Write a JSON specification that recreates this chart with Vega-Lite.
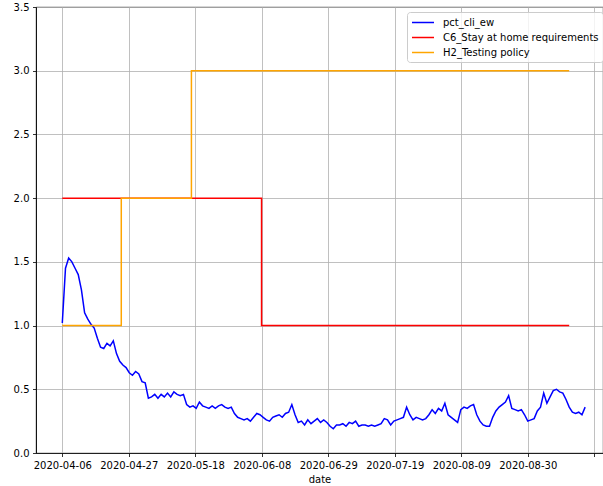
{
  "$schema": "https://vega.github.io/schema/vega-lite/v6.json",
  "width": 567,
  "height": 446,
  "autosize": {"type": "none"},
  "padding": {"left": 36, "top": 7, "right": 0, "bottom": 33},
  "background": "white",
  "config": {
    "font": "DejaVu Sans",
    "view": {"stroke": "#000000", "strokeWidth": 0.8},
    "axis": {
      "domainColor": "#000000", "domainWidth": 0.8,
      "tickColor": "#000000", "tickWidth": 0.8, "tickSize": 3.5,
      "labelFont": "DejaVu Sans", "labelFontSize": 10, "labelColor": "#000000", "labelPadding": 3.5,
      "gridColor": "#b0b0b0", "gridWidth": 0.8, "gridOpacity": 1,
      "titleFont": "DejaVu Sans", "titleFontSize": 10, "titleFontWeight": "normal", "titleColor": "#000000"
    },
    "legend": {
      "labelFont": "DejaVu Sans", "labelFontSize": 10, "labelColor": "#000000"
    }
  },
  "datasets": {
    "cli": [
      {"date":"2020-04-06","value":1.02},{"date":"2020-04-07","value":1.45},{"date":"2020-04-08","value":1.53},{"date":"2020-04-09","value":1.50},{"date":"2020-04-10","value":1.45},{"date":"2020-04-11","value":1.40},{"date":"2020-04-12","value":1.28},{"date":"2020-04-13","value":1.10},{"date":"2020-04-14","value":1.05},{"date":"2020-04-15","value":1.01},{"date":"2020-04-16","value":0.98},{"date":"2020-04-17","value":0.90},{"date":"2020-04-18","value":0.83},{"date":"2020-04-19","value":0.82},{"date":"2020-04-20","value":0.86},{"date":"2020-04-21","value":0.84},{"date":"2020-04-22","value":0.88},{"date":"2020-04-23","value":0.78},{"date":"2020-04-24","value":0.72},{"date":"2020-04-25","value":0.69},{"date":"2020-04-26","value":0.67},{"date":"2020-04-27","value":0.63},{"date":"2020-04-28","value":0.61},{"date":"2020-04-29","value":0.64},{"date":"2020-04-30","value":0.62},
      {"date":"2020-05-01","value":0.56},{"date":"2020-05-02","value":0.55},{"date":"2020-05-03","value":0.43},{"date":"2020-05-04","value":0.44},{"date":"2020-05-05","value":0.46},{"date":"2020-05-06","value":0.43},{"date":"2020-05-07","value":0.46},{"date":"2020-05-08","value":0.44},{"date":"2020-05-09","value":0.47},{"date":"2020-05-10","value":0.44},{"date":"2020-05-11","value":0.48},{"date":"2020-05-12","value":0.46},{"date":"2020-05-13","value":0.45},{"date":"2020-05-14","value":0.46},{"date":"2020-05-15","value":0.38},{"date":"2020-05-16","value":0.36},{"date":"2020-05-17","value":0.37},{"date":"2020-05-18","value":0.35},{"date":"2020-05-19","value":0.40},{"date":"2020-05-20","value":0.37},{"date":"2020-05-21","value":0.36},{"date":"2020-05-22","value":0.35},{"date":"2020-05-23","value":0.37},{"date":"2020-05-24","value":0.35},{"date":"2020-05-25","value":0.37},{"date":"2020-05-26","value":0.38},{"date":"2020-05-27","value":0.36},{"date":"2020-05-28","value":0.35},{"date":"2020-05-29","value":0.36},{"date":"2020-05-30","value":0.31},{"date":"2020-05-31","value":0.28},
      {"date":"2020-06-01","value":0.27},{"date":"2020-06-02","value":0.26},{"date":"2020-06-03","value":0.27},{"date":"2020-06-04","value":0.25},{"date":"2020-06-05","value":0.28},{"date":"2020-06-06","value":0.31},{"date":"2020-06-07","value":0.30},{"date":"2020-06-08","value":0.28},{"date":"2020-06-09","value":0.26},{"date":"2020-06-10","value":0.25},{"date":"2020-06-11","value":0.28},{"date":"2020-06-12","value":0.29},{"date":"2020-06-13","value":0.30},{"date":"2020-06-14","value":0.28},{"date":"2020-06-15","value":0.31},{"date":"2020-06-16","value":0.32},{"date":"2020-06-17","value":0.38},{"date":"2020-06-18","value":0.30},{"date":"2020-06-19","value":0.24},{"date":"2020-06-20","value":0.25},{"date":"2020-06-21","value":0.22},{"date":"2020-06-22","value":0.26},{"date":"2020-06-23","value":0.23},{"date":"2020-06-24","value":0.25},{"date":"2020-06-25","value":0.27},{"date":"2020-06-26","value":0.24},{"date":"2020-06-27","value":0.26},{"date":"2020-06-28","value":0.24},{"date":"2020-06-29","value":0.21},{"date":"2020-06-30","value":0.19},
      {"date":"2020-07-01","value":0.22},{"date":"2020-07-02","value":0.22},{"date":"2020-07-03","value":0.23},{"date":"2020-07-04","value":0.21},{"date":"2020-07-05","value":0.24},{"date":"2020-07-06","value":0.23},{"date":"2020-07-07","value":0.25},{"date":"2020-07-08","value":0.21},{"date":"2020-07-09","value":0.22},{"date":"2020-07-10","value":0.22},{"date":"2020-07-11","value":0.21},{"date":"2020-07-12","value":0.22},{"date":"2020-07-13","value":0.21},{"date":"2020-07-14","value":0.22},{"date":"2020-07-15","value":0.23},{"date":"2020-07-16","value":0.27},{"date":"2020-07-17","value":0.26},{"date":"2020-07-18","value":0.22},{"date":"2020-07-19","value":0.25},{"date":"2020-07-20","value":0.26},{"date":"2020-07-21","value":0.27},{"date":"2020-07-22","value":0.28},{"date":"2020-07-23","value":0.36},{"date":"2020-07-24","value":0.30},{"date":"2020-07-25","value":0.26},{"date":"2020-07-26","value":0.28},{"date":"2020-07-27","value":0.27},{"date":"2020-07-28","value":0.26},{"date":"2020-07-29","value":0.27},{"date":"2020-07-30","value":0.30},{"date":"2020-07-31","value":0.34},
      {"date":"2020-08-01","value":0.31},{"date":"2020-08-02","value":0.35},{"date":"2020-08-03","value":0.33},{"date":"2020-08-04","value":0.39},{"date":"2020-08-05","value":0.30},{"date":"2020-08-06","value":0.28},{"date":"2020-08-07","value":0.26},{"date":"2020-08-08","value":0.24},{"date":"2020-08-09","value":0.34},{"date":"2020-08-10","value":0.36},{"date":"2020-08-11","value":0.35},{"date":"2020-08-12","value":0.37},{"date":"2020-08-13","value":0.38},{"date":"2020-08-14","value":0.30},{"date":"2020-08-15","value":0.25},{"date":"2020-08-16","value":0.22},{"date":"2020-08-17","value":0.21},{"date":"2020-08-18","value":0.21},{"date":"2020-08-19","value":0.28},{"date":"2020-08-20","value":0.33},{"date":"2020-08-21","value":0.36},{"date":"2020-08-22","value":0.38},{"date":"2020-08-23","value":0.40},{"date":"2020-08-24","value":0.45},{"date":"2020-08-25","value":0.35},{"date":"2020-08-26","value":0.34},{"date":"2020-08-27","value":0.33},{"date":"2020-08-28","value":0.34},{"date":"2020-08-29","value":0.30},{"date":"2020-08-30","value":0.25},{"date":"2020-08-31","value":0.26},
      {"date":"2020-09-01","value":0.27},{"date":"2020-09-02","value":0.33},{"date":"2020-09-03","value":0.36},{"date":"2020-09-04","value":0.47},{"date":"2020-09-05","value":0.39},{"date":"2020-09-06","value":0.44},{"date":"2020-09-07","value":0.49},{"date":"2020-09-08","value":0.50},{"date":"2020-09-09","value":0.48},{"date":"2020-09-10","value":0.47},{"date":"2020-09-11","value":0.42},{"date":"2020-09-12","value":0.36},{"date":"2020-09-13","value":0.32},{"date":"2020-09-14","value":0.31},{"date":"2020-09-15","value":0.32},{"date":"2020-09-16","value":0.30},{"date":"2020-09-17","value":0.36}
    ],
    "c6": [
      {"date":"2020-04-06","value":2},{"date":"2020-06-07","value":2},{"date":"2020-06-08","value":1},{"date":"2020-09-12","value":1}
    ],
    "h2": [
      {"date":"2020-04-06","value":1},{"date":"2020-04-24","value":1},{"date":"2020-04-25","value":2},{"date":"2020-05-16","value":2},{"date":"2020-05-17","value":3},{"date":"2020-09-12","value":3}
    ]
  },
  "encoding": {
    "x": {
      "field": "date", "type": "temporal",
      "scale": {"type": "utc", "domain": [1585418400000, 1600784640000]},
      "axis": {
        "title": "date",
        "grid": true,
        "values": [1586131200000, 1587933257143, 1589735314286, 1591537371429, 1593339428571, 1595141485714, 1596943542857, 1598745600000, 1600547657143],
        "labelExpr": "['2020-04-06','2020-04-27','2020-05-18','2020-06-08','2020-06-29','2020-07-19','2020-08-09','2020-08-30',''][round((datum.value - 1586131200000) / 1802057142.857)] || ''",
        "labelOverlap": false,
        "labelFlush": false,
        "titlePadding": 4
      }
    },
    "y": {
      "field": "value", "type": "quantitative",
      "scale": {"domain": [0, 3.5], "nice": false, "zero": false},
      "axis": {"title": null, "grid": true, "values": [0, 0.5, 1, 1.5, 2, 2.5, 3, 3.5], "format": ".1f"}
    }
  },
  "layer": [
    {
      "data": {"name": "cli"},
      "mark": {"type": "line", "strokeWidth": 1.5, "clip": true},
      "encoding": {
        "color": {
          "datum": "pct_cli_ew",
          "scale": {
            "domain": ["pct_cli_ew", "C6_Stay at home requirements", "H2_Testing policy"],
            "range": ["#0000ff", "#ff0000", "#ffa500"]
          },
          "legend": {
            "title": null,
            "orient": "none",
            "legendX": 371,
            "legendY": 5,
            "symbolType": "M-1,0L3,0",
            "symbolSize": 121,
            "symbolStrokeWidth": 1.5,
            "labelOffset": 19,
            "rowPadding": 3,
            "padding": 4,
            "strokeColor": "#cccccc",
            "fillColor": "rgba(255,255,255,0.8)",
            "cornerRadius": 3
          }
        }
      }
    },
    {
      "data": {"name": "c6"},
      "mark": {"type": "line", "strokeWidth": 1.5, "interpolate": "step", "clip": true},
      "encoding": {"color": {"datum": "C6_Stay at home requirements"}}
    },
    {
      "data": {"name": "h2"},
      "mark": {"type": "line", "strokeWidth": 1.5, "interpolate": "step", "clip": true},
      "encoding": {"color": {"datum": "H2_Testing policy"}}
    }
  ]
}
